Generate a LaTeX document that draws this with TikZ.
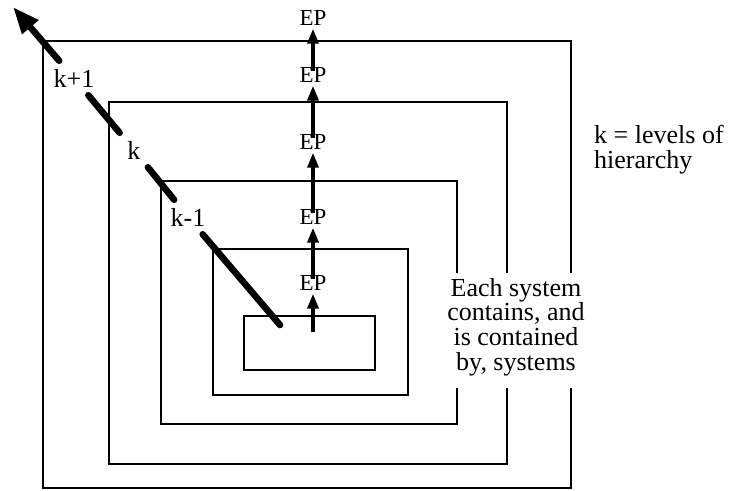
\documentclass[tikz,border=0pt]{standalone}
\usepackage{fontspec}
\setmainfont{Liberation Serif}
\usetikzlibrary{arrows.meta}

\begin{document}
\begin{tikzpicture}[x=0.03cm,y=-0.03cm,
    box/.style={line width=2.1pt},
    ep/.style={font=\fontsize{19.6}{20}\selectfont,inner sep=2.5pt},
    eparrow/.style={line width=3pt,-{Triangle[length=0.45cm,width=0.33cm]},shorten <=-6pt},
    lvl/.style={font=\fontsize{22.2}{20}\selectfont,inner sep=6.8pt},
    diag/.style={line width=5.6pt,line cap=round}]
    \useasboundingbox (0,0) rectangle (734,490);

    \draw[box] (244,316) rectangle (375,370);
    \draw[box] (213,249) rectangle (408,395);
    \foreach \l/\t/\r/\b in {161/181/457/424,109/102/507/464,43/41/571/488} {\draw[box] (\r,273) |- (\l,\t) |- (\r,\b) -- (\r,388);}

    \node[ep] (ep1) at (313,283) {EP};
    \node[ep] (ep2) at (313,217) {EP};
    \node[ep] (ep3) at (313,142) {EP};
    \node[ep] (ep4) at (313,75) {EP};
    \node[ep] (ep5) at (313,18) {EP};
    \coordinate (core) at (313,325);
    \draw[eparrow] (core) -- (ep1);
    \foreach \a/\b in {ep1/ep2,ep2/ep3,ep3/ep4,ep4/ep5} {\draw[eparrow] (\a) -- (\b);}

    \node[lvl] (kp1) at (74,78) {k+1};
    \node[lvl] (k) at (134,150) {k};
    \node[lvl] (km1) at (188,217) {k-1};
    \coordinate (dstart) at (280,325);
    \coordinate (dtip) at (13,7);
    \draw[diag] (dstart) -- (km1);
    \draw[diag] (km1) -- (k);
    \draw[diag] (k) -- (kp1);
    \draw[diag,-{Triangle[length=0.8cm,width=0.6cm]}] (kp1) -- (dtip);

    \node[font=\fontsize{22.2}{21}\selectfont,align=center] (note) at (516,327) {Each system\\contains, and\\is contained\\by, systems};
    \node[font=\fontsize{22.2}{21.3}\selectfont,align=left,anchor=west] (legend) at (590,150) {k = levels of\\hierarchy};
\end{tikzpicture}
\end{document}
